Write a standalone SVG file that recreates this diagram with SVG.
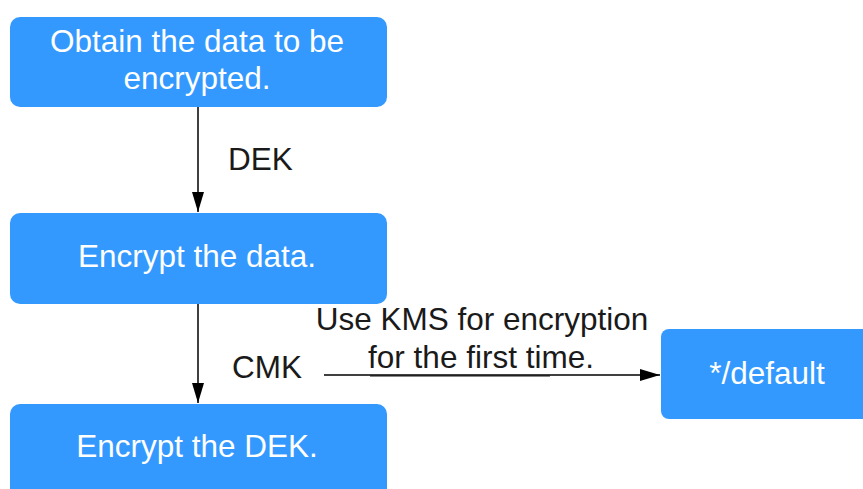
<svg xmlns="http://www.w3.org/2000/svg" width="863" height="489" viewBox="0 0 863 489">
<style>
.box{fill:#3399ff;}
.bt{font-family:"Liberation Sans",Arial,sans-serif;font-size:31.5px;fill:#ffffff;text-anchor:middle;}
.lt{font-family:"Liberation Sans",Arial,sans-serif;font-size:31.5px;fill:#1a1a1a;}
.ln{stroke:#000;stroke-width:1.5;fill:none;}
</style>
<defs>
<marker id="ah" markerWidth="20" markerHeight="12" refX="20" refY="6" orient="auto" markerUnits="userSpaceOnUse">
<path d="M0,0 L20,6 L0,12 Z" fill="#000"/>
</marker>
</defs>
<rect width="863" height="489" fill="#ffffff"/>
<g id="connectors">
<line class="ln" x1="198" y1="107" x2="198" y2="212" marker-end="url(#ah)"/>
<line class="ln" x1="198" y1="304" x2="198" y2="403" marker-end="url(#ah)"/>
<line x1="370" y1="376" x2="550" y2="376" stroke="#888" stroke-width="2"/>
<line class="ln" x1="324" y1="375" x2="660" y2="375" marker-end="url(#ah)"/>
<text class="lt" x="228" y="170">DEK</text>
<text class="lt" x="232" y="378">CMK</text>
<text class="lt" x="482" y="330" text-anchor="middle">Use KMS for encryption</text>
<text class="lt" x="481" y="368" text-anchor="middle">for the first time.</text>
</g>
<g id="obtain">
<rect class="box" x="10" y="17" width="377" height="90" rx="10"/>
<text class="bt" x="197" y="52">Obtain the data to be</text>
<text class="bt" x="197" y="89">encrypted.</text>
</g>
<g id="encrypt-data">
<rect class="box" x="10" y="213" width="377" height="91" rx="10"/>
<text class="bt" x="197" y="267">Encrypt the data.</text>
</g>
<g id="encrypt-dek">
<rect class="box" x="10" y="404" width="377" height="95" rx="10"/>
<text class="bt" x="197" y="457">Encrypt the DEK.</text>
</g>
<g id="default">
<rect class="box" x="661" y="329" width="215" height="90" rx="8"/>
<text class="bt" x="767" y="384">*/default</text>
</g>
</svg>
